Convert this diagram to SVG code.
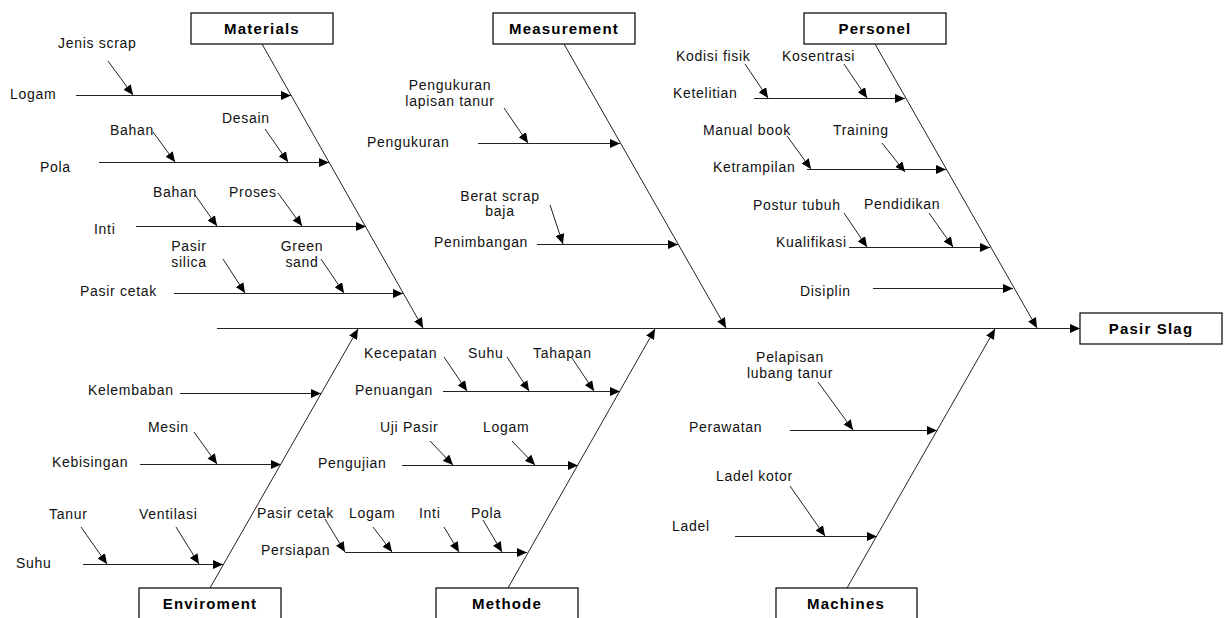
<svg xmlns="http://www.w3.org/2000/svg" width="1225" height="618" viewBox="0 0 1225 618">
<defs>
<marker id="ah" markerUnits="userSpaceOnUse" markerWidth="10" markerHeight="9" refX="10" refY="4.5" orient="auto" viewBox="0 0 10 9">
<path d="M0,0 L10,4.5 L0,9 z" fill="#000"/>
</marker>
<style>
.t{font-family:"Liberation Sans",Arial,sans-serif;font-size:14px;letter-spacing:0.7px;fill:#111}
.m{text-anchor:middle}
.b{font-family:"Liberation Sans",Arial,sans-serif;font-size:15px;font-weight:bold;letter-spacing:1.2px;fill:#000;text-anchor:middle}
.box{fill:#fff;stroke:#000;stroke-width:1.2}
#connectors line{stroke:#222;stroke-width:1;marker-end:url(#ah)}
</style>
</defs>
<rect width="1225" height="618" fill="#fff"/>

<g id="connectors">
<!-- main spine -->
<line x1="217" y1="328.5" x2="1080" y2="328.5"/>
<!-- category spines -->
<line x1="262" y1="44" x2="423" y2="328"/>
<line x1="564" y1="44" x2="726" y2="328"/>
<line x1="875" y1="44" x2="1037" y2="328"/>
<line x1="210" y1="588" x2="358" y2="329"/>
<line x1="508" y1="588" x2="655" y2="329"/>
<line x1="847" y1="588" x2="995" y2="329"/>
<!-- Materials -->
<line x1="76" y1="95.5" x2="291" y2="95.5"/>
<line x1="108" y1="61" x2="133" y2="95"/>
<line x1="99" y1="162.5" x2="329" y2="162.5"/>
<line x1="153" y1="132" x2="175" y2="162"/>
<line x1="265" y1="129" x2="288" y2="162"/>
<line x1="136" y1="226.5" x2="366" y2="226.5"/>
<line x1="195" y1="195" x2="217" y2="226"/>
<line x1="278" y1="193" x2="302" y2="226"/>
<line x1="174" y1="293.5" x2="403" y2="293.5"/>
<line x1="223" y1="259" x2="245" y2="293"/>
<line x1="321" y1="259" x2="344" y2="293"/>
<!-- Measurement -->
<line x1="478" y1="143.5" x2="620" y2="143.5"/>
<line x1="504" y1="108" x2="528" y2="143"/>
<line x1="537" y1="244.5" x2="678" y2="244.5"/>
<line x1="550" y1="205" x2="563" y2="244"/>
<!-- Personel -->
<line x1="754" y1="98.5" x2="905" y2="98.5"/>
<line x1="745" y1="64" x2="768" y2="98"/>
<line x1="844" y1="64" x2="867" y2="98"/>
<line x1="807" y1="169.5" x2="946" y2="169.5"/>
<line x1="787" y1="136" x2="811" y2="169"/>
<line x1="882" y1="143" x2="905" y2="172"/>
<line x1="849" y1="247.5" x2="990" y2="247.5"/>
<line x1="844" y1="213" x2="867" y2="247"/>
<line x1="929" y1="213" x2="953" y2="247"/>
<line x1="873" y1="288.5" x2="1013" y2="288.5"/>
<!-- Enviroment -->
<line x1="180" y1="393.5" x2="321" y2="393.5"/>
<line x1="140" y1="464.5" x2="281" y2="464.5"/>
<line x1="194" y1="432" x2="217" y2="464"/>
<line x1="83" y1="564.5" x2="223" y2="564.5"/>
<line x1="81" y1="527" x2="107" y2="564"/>
<line x1="176" y1="527" x2="199" y2="564"/>
<!-- Methode -->
<line x1="443" y1="391.5" x2="620" y2="391.5"/>
<line x1="444" y1="357" x2="467" y2="391"/>
<line x1="507" y1="357" x2="529" y2="391"/>
<line x1="572" y1="358" x2="594" y2="391"/>
<line x1="402" y1="465.5" x2="578" y2="465.5"/>
<line x1="430" y1="441" x2="453" y2="465"/>
<line x1="512" y1="441" x2="535" y2="465"/>
<line x1="345" y1="552.5" x2="527" y2="552.5"/>
<line x1="325" y1="519" x2="345" y2="552"/>
<line x1="373" y1="527" x2="392" y2="552"/>
<line x1="444" y1="527" x2="459" y2="552"/>
<line x1="483" y1="520" x2="502" y2="552"/>
<!-- Machines -->
<line x1="790" y1="430.5" x2="937" y2="430.5"/>
<line x1="818" y1="382" x2="853" y2="430"/>
<line x1="735" y1="536.5" x2="877" y2="536.5"/>
<line x1="790" y1="486" x2="825" y2="536"/>
</g>

<g id="materials">
<rect class="box" x="191" y="13" width="142" height="31"/>
<text class="b" x="262" y="34">Materials</text>
<text class="t" x="58" y="48">Jenis scrap</text>
<text class="t" x="10" y="99">Logam</text>
<text class="t" x="110" y="135">Bahan</text>
<text class="t" x="222" y="123">Desain</text>
<text class="t" x="40" y="172">Pola</text>
<text class="t" x="153" y="197">Bahan</text>
<text class="t" x="229" y="197">Proses</text>
<text class="t" x="94" y="234">Inti</text>
<text class="t m" x="189" y="251">Pasir</text>
<text class="t m" x="189" y="267">silica</text>
<text class="t m" x="302" y="251">Green</text>
<text class="t m" x="302" y="267">sand</text>
<text class="t" x="80" y="296">Pasir cetak</text>
</g>

<g id="measurement">
<rect class="box" x="493" y="13" width="142" height="31"/>
<text class="b" x="564" y="34">Measurement</text>
<text class="t m" x="450" y="90">Pengukuran</text>
<text class="t m" x="450" y="106">lapisan tanur</text>
<text class="t" x="367" y="147">Pengukuran</text>
<text class="t m" x="500" y="201">Berat scrap</text>
<text class="t m" x="500" y="216">baja</text>
<text class="t" x="434" y="247">Penimbangan</text>
</g>

<g id="personel">
<rect class="box" x="804" y="13" width="142" height="31"/>
<text class="b" x="875" y="34">Personel</text>
<text class="t" x="676" y="61">Kodisi fisik</text>
<text class="t" x="782" y="61">Kosentrasi</text>
<text class="t" x="673" y="98">Ketelitian</text>
<text class="t" x="703" y="135">Manual book</text>
<text class="t" x="833" y="135">Training</text>
<text class="t" x="713" y="172">Ketrampilan</text>
<text class="t" x="753" y="210">Postur tubuh</text>
<text class="t" x="864" y="209">Pendidikan</text>
<text class="t" x="776" y="247">Kualifikasi</text>
<text class="t" x="800" y="296">Disiplin</text>
</g>

<g id="pasir-slag">
<rect class="box" x="1080" y="313" width="142" height="31"/>
<text class="b" x="1151" y="334">Pasir Slag</text>
</g>

<g id="enviroment">
<rect class="box" x="139" y="588" width="142" height="32"/>
<text class="b" x="210" y="609">Enviroment</text>
<text class="t" x="88" y="395">Kelembaban</text>
<text class="t" x="148" y="432">Mesin</text>
<text class="t" x="52" y="467">Kebisingan</text>
<text class="t" x="49" y="519">Tanur</text>
<text class="t" x="139" y="519">Ventilasi</text>
<text class="t" x="16" y="568">Suhu</text>
</g>

<g id="methode">
<rect class="box" x="436" y="588" width="142" height="32"/>
<text class="b" x="507" y="609">Methode</text>
<text class="t" x="364" y="358">Kecepatan</text>
<text class="t" x="468" y="358">Suhu</text>
<text class="t" x="533" y="358">Tahapan</text>
<text class="t" x="355" y="395">Penuangan</text>
<text class="t" x="380" y="432">Uji Pasir</text>
<text class="t" x="483" y="432">Logam</text>
<text class="t" x="318" y="468">Pengujian</text>
<text class="t" x="257" y="518">Pasir cetak</text>
<text class="t" x="349" y="518">Logam</text>
<text class="t" x="419" y="518">Inti</text>
<text class="t" x="471" y="518">Pola</text>
<text class="t" x="261" y="555">Persiapan</text>
</g>

<g id="machines">
<rect class="box" x="776" y="588" width="141" height="32"/>
<text class="b" x="846" y="609">Machines</text>
<text class="t m" x="790" y="362">Pelapisan</text>
<text class="t m" x="790" y="378">lubang tanur</text>
<text class="t" x="689" y="432">Perawatan</text>
<text class="t" x="716" y="481">Ladel kotor</text>
<text class="t" x="672" y="531">Ladel</text>
</g>
</svg>
